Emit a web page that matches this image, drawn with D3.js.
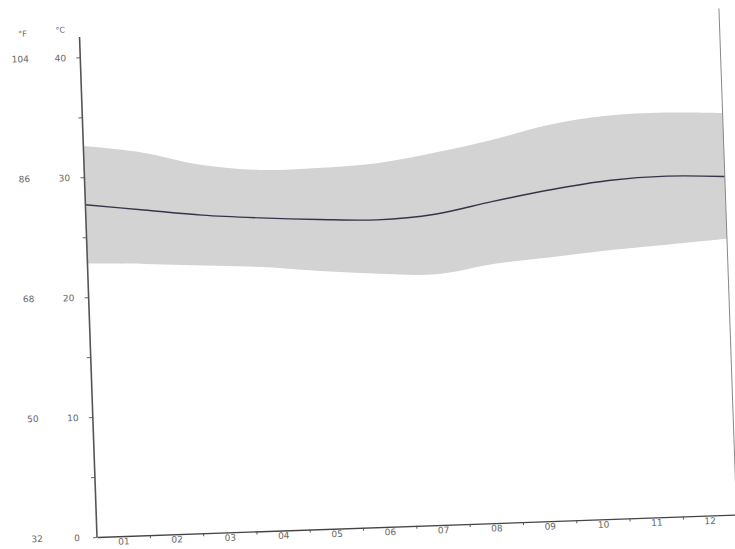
<!DOCTYPE html>
<html>
<head>
<meta charset="utf-8">
<script src="https://cdn.jsdelivr.net/npm/d3@7"></script>
<style>
  body { margin: 0; background: #fff; }
  text { font-family: "DejaVu Sans", sans-serif; }
</style>
</head>
<body>
<svg id="chart"></svg>
<script>
const months = ["01", "02", "03", "04", "05", "06", "07", "08", "09", "10", "11", "12"];
const tMax  = [32.6, 31.9, 30.7, 30.1, 30.1, 30.3, 31.0, 31.9, 33.0, 33.6, 33.7, 33.5];
const tMean = [27.7, 27.1, 26.5, 26.1, 25.8, 25.6, 25.9, 26.8, 27.6, 28.2, 28.4, 28.2];
const tMin  = [22.8, 22.6, 22.3, 22.0, 21.5, 21.1, 20.9, 21.6, 22.0, 22.4, 22.7, 23.0];
const cTicks = [0, 10, 20, 30, 40];
const fLabels = ["32", "50", "68", "86", "104"];

const width = 735;
const height = 549;
const plotW = 640;
const plotH = 480;

const svg = d3.select("#chart")
    .attr("width", width)
    .attr("height", height);

// the scanned sheet sits a little crooked, so the whole plot is tilted
const g = svg.append("g")
    .attr("transform", "translate(97,537) rotate(-2)");

const x = d3.scaleBand().domain(months).range([0, plotW]);
const xp = d3.scalePoint().domain(months).range([0, plotW]);
const y = d3.scaleLinear().domain([0, 40]).range([0, -plotH]);

const data = months.map((m, i) => ({ m, hi: tMax[i], mean: tMean[i], lo: tMin[i] }));

g.append("path")
    .datum(data)
    .attr("fill", "#d3d3d3")
    .attr("d", d3.area()
        .x(d => xp(d.m))
        .y0(d => y(d.lo))
        .y1(d => y(d.hi))
        .curve(d3.curveCatmullRom));

g.append("path")
    .datum(data)
    .attr("fill", "none")
    .attr("stroke", "#33364a")
    .attr("stroke-width", 1.4)
    .attr("d", d3.line()
        .x(d => xp(d.m))
        .y(d => y(d.mean))
        .curve(d3.curveCatmullRom));

// left axis (°C)
const yAxis = g.append("g")
    .call(d3.axisLeft(y)
        .tickValues(d3.range(0, 41, 5))
        .tickSize(4)
        .tickPadding(9)
        .tickFormat(d => cTicks.includes(d) ? d : ""));
yAxis.select(".domain").remove();
yAxis.selectAll("line").attr("stroke", "#666");
yAxis.selectAll("text").attr("fill", "#666").attr("font-size", 9).attr("text-anchor", "middle").attr("x", -20);

g.append("line")
    .attr("x1", 0).attr("x2", 0)
    .attr("y1", y(0)).attr("y2", y(41.7))
    .attr("stroke", "#555")
    .attr("stroke-width", 1.6);

// °F labels
g.selectAll(".flabel")
    .data(cTicks)
    .enter()
    .append("text")
    .attr("class", "flabel")
    .attr("x", -60)
    .attr("y", d => y(d))
    .attr("dy", "0.32em")
    .attr("text-anchor", "middle")
    .attr("font-size", 9)
    .attr("fill", "#666")
    .text((d, i) => fLabels[i]);

g.append("text")
    .attr("x", -57).attr("y", y(41.9))
    .attr("text-anchor", "middle")
    .attr("font-size", 8)
    .attr("fill", "#666")
    .text("°F");

g.append("text")
    .attr("x", -19).attr("y", y(42.1))
    .attr("text-anchor", "middle")
    .attr("font-size", 8)
    .attr("fill", "#666")
    .text("°C");

// bottom axis
const xAxis = g.append("g")
    .call(d3.axisBottom(x).tickSize(0).tickPadding(2));
xAxis.select(".domain").attr("stroke", "#444").attr("stroke-width", 1.3);
xAxis.selectAll("text").attr("fill", "#666").attr("font-size", 9);

g.selectAll(".mtick")
    .data(months.slice(1))
    .enter()
    .append("line")
    .attr("class", "mtick")
    .attr("x1", d => x(d)).attr("x2", d => x(d))
    .attr("y1", 0).attr("y2", 3)
    .attr("stroke", "#555");

// right frame line
g.append("line")
    .attr("x1", plotW).attr("x2", plotW)
    .attr("y1", y(0)).attr("y2", y(42.2))
    .attr("stroke", "#888")
    .attr("stroke-width", 1);
</script>
</body>
</html>
